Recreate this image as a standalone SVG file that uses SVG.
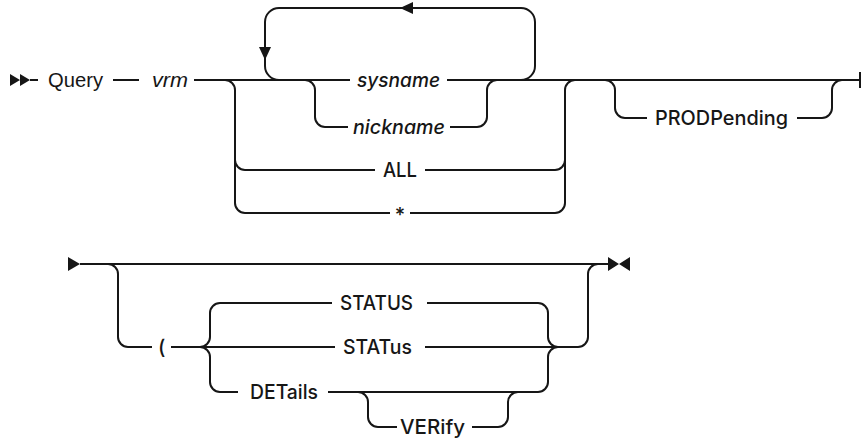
<svg xmlns="http://www.w3.org/2000/svg" width="862" height="439" viewBox="0 0 862 439">
<style>
.ln{fill:none;stroke:#161616;stroke-width:2;stroke-linecap:butt}
.ah{fill:#161616;stroke:none}
.t{font-family:"Inter","Noto Sans","Liberation Sans",sans-serif;font-size:20px;font-weight:500;fill:#161616}
.h{font-family:"Liberation Sans",Arial,sans-serif;font-size:20px;fill:#161616}
.i{font-style:italic}
.m{text-anchor:middle}
</style>
<rect width="862" height="439" fill="#fff"/>
<g id="connectors">
<path class="ln" d="M30,80 H38 M113,80 H139 M194,80 H350 M447,80 H860"/>
<path class="ln" d="M860,72 V88" stroke-width="2.2"/>
<path class="ln" d="M225,80 a10,10 0 0 1 10,10 V160 a10,10 0 0 0 10,10 H375 M425,170 H555 a10,10 0 0 0 10,-10 V90 a10,10 0 0 1 10,-10"/>
<path class="ln" d="M235,160 V203 a10,10 0 0 0 10,10 H390 M410,213 H555 a10,10 0 0 0 10,-10 V160"/>
<path class="ln" d="M305,80 a10,10 0 0 1 10,10 V117 a10,10 0 0 0 10,10 H348 M450,127 H477 a10,10 0 0 0 10,-10 V90 a10,10 0 0 1 10,-10"/>
<path class="ln" d="M521,80 a14,14 0 0 0 14,-14 V22 a14,14 0 0 0 -14,-14 H279 a14,14 0 0 0 -14,14 V66 a14,14 0 0 0 14,14"/>
<path class="ln" d="M605,80 a10,10 0 0 1 10,10 V108 a10,10 0 0 0 10,10 H647 M797,118 H822 a10,10 0 0 0 10,-10 V90 a10,10 0 0 1 10,-10"/>
<path class="ah" d="M10,74 L20,80 L10,86 Z M20,74 L30,80 L20,86 Z"/>
<path class="ah" d="M400,8 L413,2 L413,14 Z"/>
<path class="ah" d="M265,60 L259,47 L271,47 Z"/>
<path class="ln" d="M80,264 H608"/>
<path class="ah" d="M68,257 L80,264 L68,271 Z"/>
<path class="ah" d="M608,257 L619,264 L608,271 Z M630,257 L619,264 L630,271 Z"/>
<path class="ln" d="M108,264 a10,10 0 0 1 10,10 V337 a10,10 0 0 0 10,10 H152 M171,347 H335 M425,347 H578 a10,10 0 0 0 10,-10 V274 a10,10 0 0 1 10,-10"/>
<path class="ln" d="M200,347 a10,10 0 0 0 10,-10 V313 a10,10 0 0 1 10,-10 H332 M427,303 H538 a10,10 0 0 1 10,10 V337 a10,10 0 0 0 10,10"/>
<path class="ln" d="M200,347 a10,10 0 0 1 10,10 V382 a10,10 0 0 0 10,10 H238 M328,392 H538 a10,10 0 0 0 10,-10 V357 a10,10 0 0 1 10,-10"/>
<path class="ln" d="M358,392 a10,10 0 0 1 10,10 V417 a10,10 0 0 0 10,10 H397 M472,427 H498 a10,10 0 0 0 10,-10 V402 a10,10 0 0 1 10,-10"/>
</g>
<g id="n-query"><text class="h" x="48" y="87" textLength="55" lengthAdjust="spacingAndGlyphs">Query</text></g>
<g id="n-vrm"><text class="h i" x="152" y="87" textLength="36" lengthAdjust="spacingAndGlyphs">vrm</text></g>
<g id="n-sysname"><text class="t i" x="357" y="87" textLength="83" lengthAdjust="spacingAndGlyphs">sysname</text></g>
<g id="n-nickname"><text class="t i" x="353" y="134" textLength="92" lengthAdjust="spacingAndGlyphs">nickname</text></g>
<g id="n-all"><text class="t" x="383" y="177" textLength="34" lengthAdjust="spacingAndGlyphs">ALL</text></g>
<g id="n-star"><text class="t m" x="400" y="222">*</text></g>
<g id="n-prodpending"><text class="t" x="655" y="125" textLength="133" lengthAdjust="spacingAndGlyphs">PRODPending</text></g>
<g id="n-paren"><text class="t" x="158" y="354">(</text></g>
<g id="n-status"><text class="t" x="340" y="310" textLength="73" lengthAdjust="spacingAndGlyphs">STATUS</text></g>
<g id="n-status2"><text class="t" x="343" y="354" textLength="69" lengthAdjust="spacingAndGlyphs">STATus</text></g>
<g id="n-details"><text class="t" x="250" y="399" textLength="68" lengthAdjust="spacingAndGlyphs">DETails</text></g>
<g id="n-verify"><text class="t" x="400" y="434" textLength="65" lengthAdjust="spacingAndGlyphs">VERify</text></g>
</svg>
